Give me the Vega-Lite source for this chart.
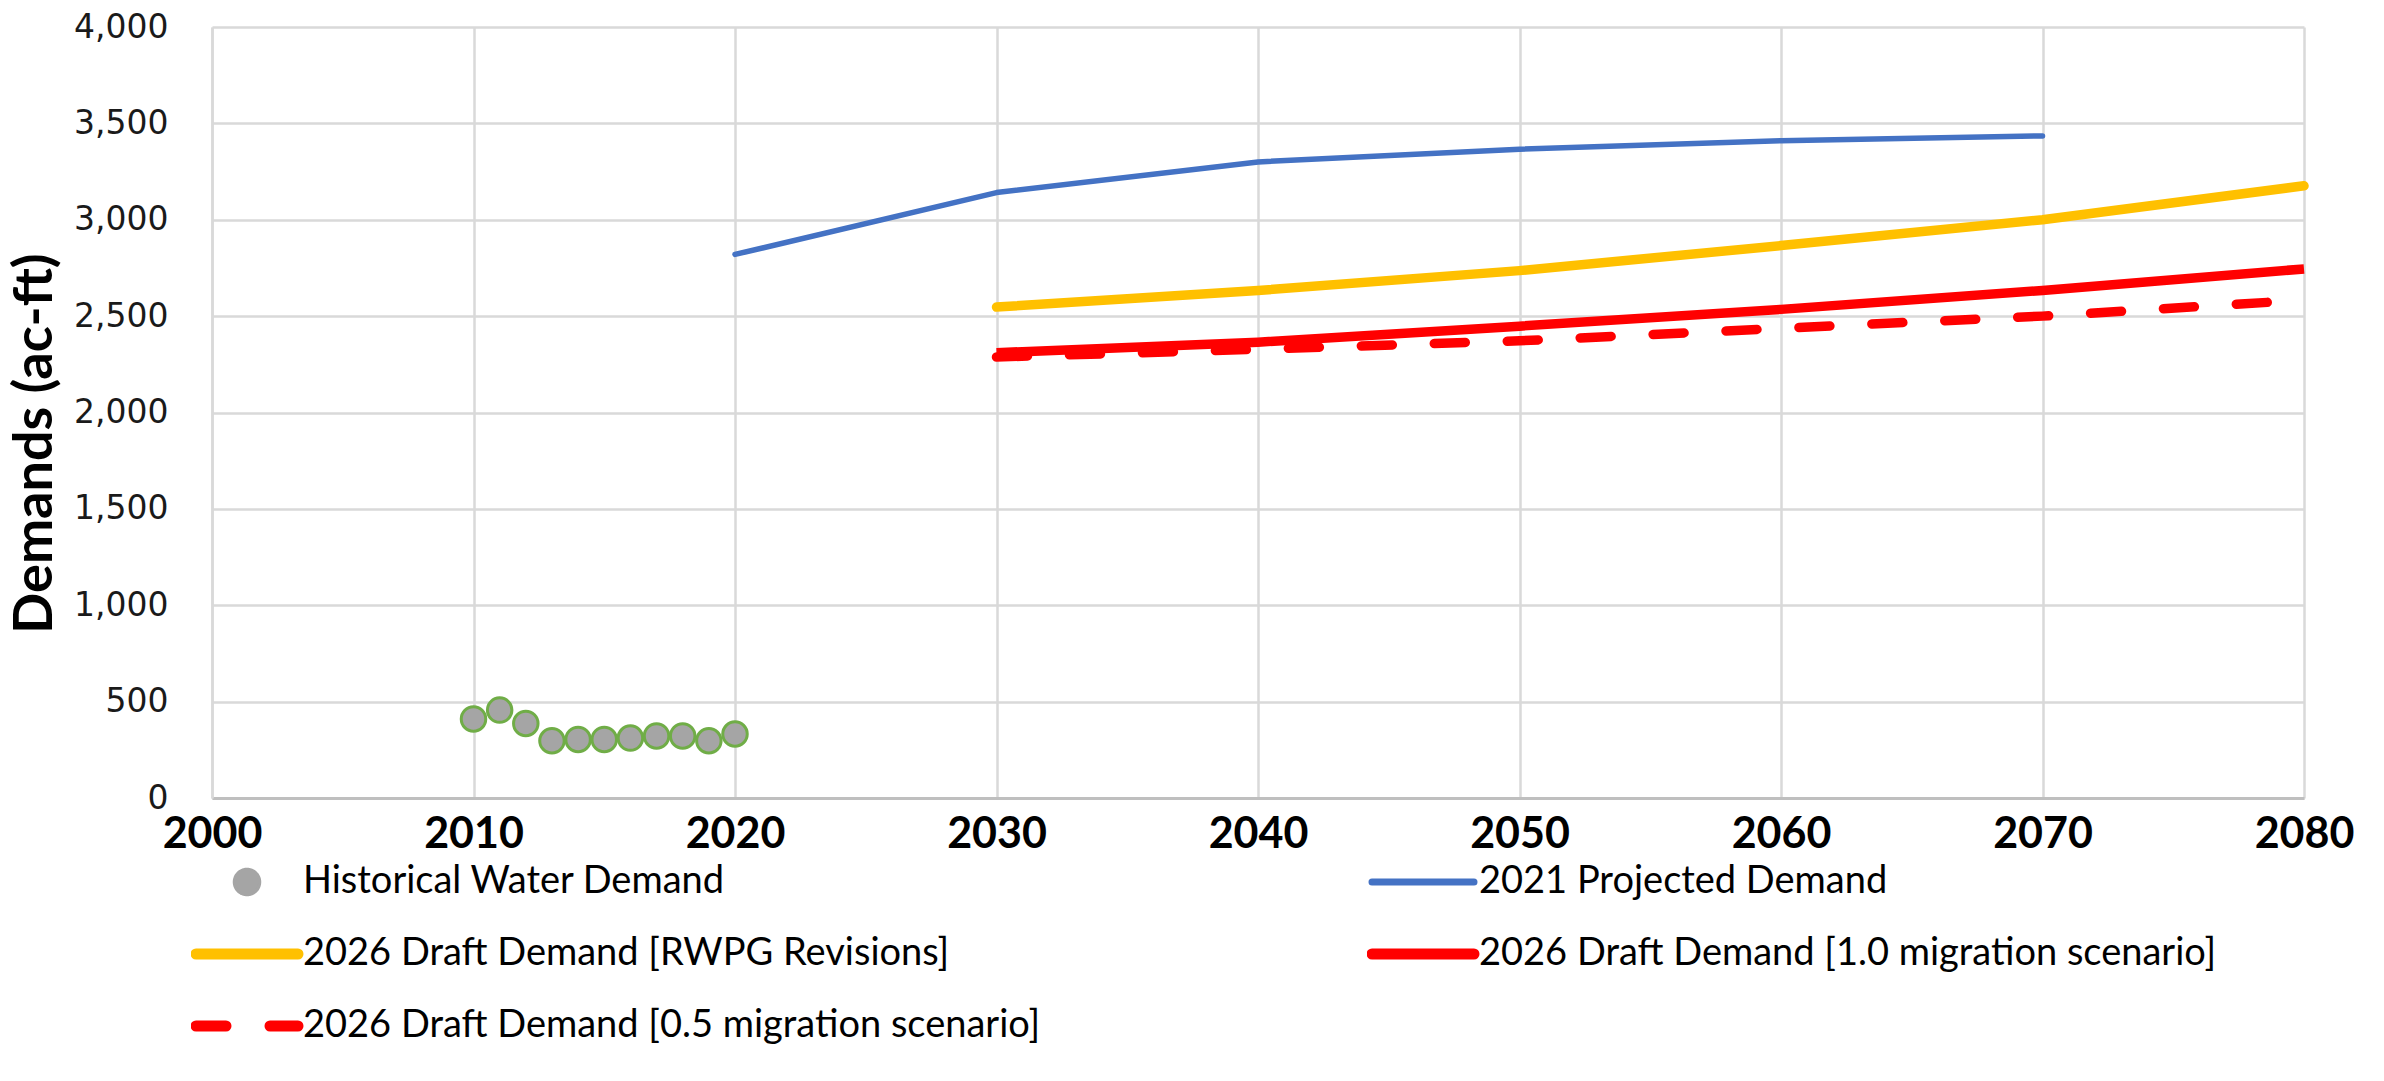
{
  "$schema": "https://vega.github.io/schema/vega-lite/v6.json",
  "autosize": "none",
  "width": 2092,
  "height": 771,
  "padding": {"left": 212, "top": 27, "right": 80, "bottom": 283},
  "background": "white",
  "config": {
    "view": {"stroke": null},
    "axis": {"ticks": false}
  },
  "data": {
    "values": [
      {"series": "Historical Water Demand", "year": 2010, "demand": 410},
      {"series": "Historical Water Demand", "year": 2011, "demand": 456},
      {"series": "Historical Water Demand", "year": 2012, "demand": 387},
      {"series": "Historical Water Demand", "year": 2013, "demand": 297},
      {"series": "Historical Water Demand", "year": 2014, "demand": 304},
      {"series": "Historical Water Demand", "year": 2015, "demand": 304},
      {"series": "Historical Water Demand", "year": 2016, "demand": 311},
      {"series": "Historical Water Demand", "year": 2017, "demand": 322},
      {"series": "Historical Water Demand", "year": 2018, "demand": 322},
      {"series": "Historical Water Demand", "year": 2019, "demand": 297},
      {"series": "Historical Water Demand", "year": 2020, "demand": 332},
      {"series": "2021 Projected Demand", "year": 2020, "demand": 2820},
      {"series": "2021 Projected Demand", "year": 2030, "demand": 3141},
      {"series": "2021 Projected Demand", "year": 2040, "demand": 3300},
      {"series": "2021 Projected Demand", "year": 2050, "demand": 3366},
      {"series": "2021 Projected Demand", "year": 2060, "demand": 3410},
      {"series": "2021 Projected Demand", "year": 2070, "demand": 3435},
      {"series": "2026 Draft Demand [RWPG Revisions]", "year": 2030, "demand": 2547},
      {"series": "2026 Draft Demand [RWPG Revisions]", "year": 2040, "demand": 2633},
      {"series": "2026 Draft Demand [RWPG Revisions]", "year": 2050, "demand": 2736},
      {"series": "2026 Draft Demand [RWPG Revisions]", "year": 2060, "demand": 2866},
      {"series": "2026 Draft Demand [RWPG Revisions]", "year": 2070, "demand": 3000},
      {"series": "2026 Draft Demand [RWPG Revisions]", "year": 2080, "demand": 3176},
      {"series": "2026 Draft Demand [1.0 migration scenario]", "year": 2030, "demand": 2310},
      {"series": "2026 Draft Demand [1.0 migration scenario]", "year": 2040, "demand": 2365},
      {"series": "2026 Draft Demand [1.0 migration scenario]", "year": 2050, "demand": 2448},
      {"series": "2026 Draft Demand [1.0 migration scenario]", "year": 2060, "demand": 2535},
      {"series": "2026 Draft Demand [1.0 migration scenario]", "year": 2070, "demand": 2633},
      {"series": "2026 Draft Demand [1.0 migration scenario]", "year": 2080, "demand": 2745},
      {"series": "2026 Draft Demand [0.5 migration scenario]", "year": 2030, "demand": 2288},
      {"series": "2026 Draft Demand [0.5 migration scenario]", "year": 2040, "demand": 2328},
      {"series": "2026 Draft Demand [0.5 migration scenario]", "year": 2050, "demand": 2372},
      {"series": "2026 Draft Demand [0.5 migration scenario]", "year": 2060, "demand": 2437},
      {"series": "2026 Draft Demand [0.5 migration scenario]", "year": 2070, "demand": 2500},
      {"series": "2026 Draft Demand [0.5 migration scenario]", "year": 2080, "demand": 2583}
    ]
  },
  "encoding": {
    "x": {
      "field": "year", "type": "quantitative",
      "scale": {"domain": [2000, 2080], "nice": false, "zero": false},
      "axis": {
        "title": null,
        "values": [2000, 2010, 2020, 2030, 2040, 2050, 2060, 2070, 2080],
        "format": "d",
        "labelFont": "Lato", "labelFontWeight": "bold", "labelFontSize": 43, "labelColor": "#000000",
        "labelPadding": 15, "labelFlush": false, "labelOverlap": false,
        "grid": true, "gridColor": "#D9D9D9", "gridWidth": 2.5,
        "domainColor": "#BFBFBF", "domainWidth": 3
      }
    },
    "y": {
      "field": "demand", "type": "quantitative",
      "scale": {"domain": [0, 4000], "nice": false},
      "axis": {
        "title": "Demands (ac-ft)",
        "titleFont": "Lato", "titleFontWeight": "bold", "titleFontSize": 54, "titleColor": "#000000",
        "titleAngle": -90, "titleAlign": "center", "titleBaseline": "alphabetic",
        "titleX": -161, "titleY": 416,
        "values": [0, 500, 1000, 1500, 2000, 2500, 3000, 3500, 4000],
        "format": ",d",
        "labelFont": "DejaVu Sans", "labelFontSize": 33, "labelColor": "#1a1a1a",
        "labelPadding": 44, "labelOverlap": false,
        "grid": true, "gridColor": "#D9D9D9", "gridWidth": 2.5,
        "domainColor": "#D9D9D9", "domainWidth": 2.5
      }
    }
  },
  "layer": [
    {
      "transform": [{"filter": "datum.series === 'Historical Water Demand'"}],
      "mark": {"type": "point", "shape": "circle", "filled": true, "fill": "#A5A5A5", "stroke": "#70AD47", "strokeWidth": 3, "size": 600, "opacity": 1},
      "encoding": {
        "color": {
          "field": "series", "type": "nominal",
          "scale": {
            "domain": ["Historical Water Demand", "2021 Projected Demand", "2026 Draft Demand [RWPG Revisions]", "2026 Draft Demand [1.0 migration scenario]", "2026 Draft Demand [0.5 migration scenario]"],
            "range": ["#A5A5A5", "#4472C4", "#FFC000", "#FF0000", "#FF0000"]
          },
          "legend": {
            "title": null,
            "orient": "none", "legendX": -21, "legendY": 832,
            "direction": "horizontal",
            "columns": 2, "columnPadding": 326, "rowPadding": 26,
            "clipHeight": 46, "padding": 0,
            "symbolType": "stroke", "symbolSize": 10404, "symbolStrokeWidth": 10,
            "symbolOffset": 37,
            "labelFont": "Lato", "labelFontSize": 38, "labelColor": "#000000", "labelOffset": 37, "labelLimit": 1000,
            "encoding": {
              "symbols": {
                "shape": {"value": {"expr": "datum.value === 'Historical Water Demand' ? 'circle' : 'stroke'"}},
                "size": {"value": {"expr": "datum.value === 'Historical Water Demand' ? 650 : 10404"}},
                "fill": {"value": {"expr": "datum.value === 'Historical Water Demand' ? '#A5A5A5' : 'transparent'"}},
                "stroke": {"value": {"expr": "datum.value === 'Historical Water Demand' ? '#70AD47' : datum.value === '2021 Projected Demand' ? '#4472C4' : datum.value === '2026 Draft Demand [RWPG Revisions]' ? '#FFC000' : '#FF0000'"}},
                "strokeWidth": {"value": {"expr": "datum.value === 'Historical Water Demand' ? 3 : datum.value === '2021 Projected Demand' ? 7 : 11"}},
                "strokeDash": {"value": {"expr": "datum.value === '2026 Draft Demand [0.5 migration scenario]' ? [30, 44] : [1, 0]"}},
                "strokeCap": {"value": "round"},
                "opacity": {"value": 1},
                "fillOpacity": {"value": 1},
                "strokeOpacity": {"value": 1}
              }
            }
          }
        }
      }
    },
    {
      "transform": [{"filter": "datum.series === '2021 Projected Demand'"}],
      "mark": {"type": "line", "strokeWidth": 5.5, "strokeCap": "round", "strokeJoin": "round"},
      "encoding": {"color": {"field": "series", "type": "nominal"}}
    },
    {
      "transform": [{"filter": "datum.series === '2026 Draft Demand [RWPG Revisions]'"}],
      "mark": {"type": "line", "strokeWidth": 9.5, "strokeCap": "round", "strokeJoin": "round"},
      "encoding": {"color": {"field": "series", "type": "nominal"}}
    },
    {
      "transform": [{"filter": "datum.series === '2026 Draft Demand [1.0 migration scenario]'"}],
      "mark": {"type": "line", "strokeWidth": 9.5, "strokeCap": "butt", "strokeJoin": "round"},
      "encoding": {"color": {"field": "series", "type": "nominal"}}
    },
    {
      "transform": [{"filter": "datum.series === '2026 Draft Demand [0.5 migration scenario]'"}],
      "mark": {"type": "line", "strokeWidth": 9.5, "strokeCap": "round", "strokeJoin": "round", "strokeDash": [31, 42]},
      "encoding": {"color": {"field": "series", "type": "nominal"}}
    }
  ]
}
